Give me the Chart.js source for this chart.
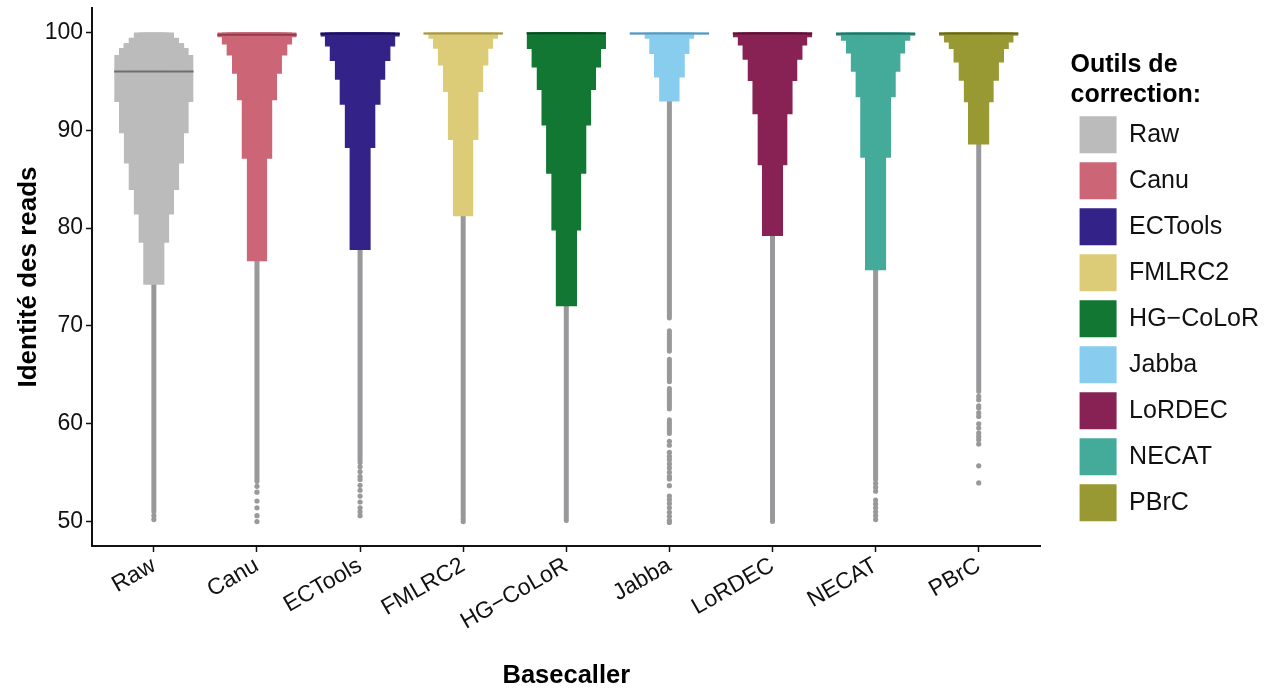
<!DOCTYPE html>
<html>
<head>
<meta charset="utf-8">
<script src="https://cdn.jsdelivr.net/npm/chart.js@4.4.1/dist/chart.umd.min.js"></script>
<style>
  html, body { margin: 0; padding: 0; background: #ffffff; }
  #wrap { width: 1274px; height: 691px; position: relative; }
</style>
</head>
<body>
<div id="wrap"><canvas id="c"></canvas></div>
<script>
// ---------------- DATA ----------------
const categories = ['Raw', 'Canu', 'ECTools', 'FMLRC2', 'HG\u2212CoLoR', 'Jabba', 'LoRDEC', 'NECAT', 'PBrC'];
const fillColors = ['#BBBBBB', '#CC6677', '#332288', '#DDCC77', '#117733', '#88CCEE', '#882255', '#44AA99', '#999933'];
const medianColors = ['#6e6e6e', '#8c3d4d', '#1c1259', '#a39552', '#0a4a20', '#5f96b8', '#561535', '#2a7063', '#66661f'];
const yTicks = [50, 60, 70, 80, 90, 100];

// step boundaries of each (histogram-like) violin, from top to bottom (identity %)
const stepEdges = [
  [100, 99.46, 98.9, 98.4, 97.7, 92.9, 89.7, 86.6, 83.9, 81.4, 78.5, 74.2],
  [100, 99.52, 98.78, 97.65, 95.78, 93.06, 87.1, 76.6],
  [100, 99.58, 98.56, 97.07, 95.16, 92.6, 88.2, 77.76],
  [100, 99.8, 99.35, 98.33, 96.63, 93.9, 89.0, 81.2],
  [100, 98.3, 96.43, 94.12, 90.48, 85.55, 79.76, 72.0],
  [100, 99.8, 99.35, 97.8, 95.4, 92.95],
  [100, 99.52, 98.67, 97.2, 95.03, 91.63, 86.42, 79.2],
  [100, 99.66, 99.15, 97.86, 95.99, 93.37, 87.18, 75.68],
  [100, 99.66, 98.98, 98.3, 96.94, 95.07, 92.86, 88.54]
];
// relative density (width) of each step, 1 = widest
const stepWidths = [
  [0.51, 0.64, 0.77, 0.88, 1.0, 0.88, 0.76, 0.64, 0.51, 0.39, 0.27],
  [1.0, 0.89, 0.77, 0.63, 0.51, 0.39, 0.26],
  [1.0, 0.89, 0.77, 0.64, 0.52, 0.39, 0.27],
  [1.0, 0.88, 0.76, 0.64, 0.51, 0.39, 0.26],
  [1.0, 0.88, 0.75, 0.63, 0.51, 0.38, 0.27],
  [1.0, 0.63, 0.51, 0.39, 0.26],
  [1.0, 0.88, 0.76, 0.63, 0.51, 0.38, 0.27],
  [1.0, 0.88, 0.75, 0.63, 0.51, 0.39, 0.27],
  [1.0, 0.88, 0.76, 0.64, 0.51, 0.38, 0.27]
];
const medians = [96.0, 99.76, 99.86, 99.9, 99.93, 99.9, 99.9, 99.86, 99.9];

// outlier reads: dense runs [low, high] and isolated reads
const denseRuns = [
  [[51.0, 74.2]],
  [[54.1, 76.6]],
  [[56.0, 77.76]],
  [[50.6, 81.2]],
  [[50.1, 72.0]],
  [[70.8, 92.95], [67.4, 69.5], [64.3, 66.6], [61.5, 63.6], [59.0, 60.4]],
  [[50.0, 79.2]],
  [[54.3, 75.68]],
  [[63.3, 88.54]]
];
const singleReads = [
  [50.6, 50.2],
  [53.6, 53.0, 52.1, 51.4, 50.6, 50.0],
  [55.6, 55.1, 54.6, 54.3, 53.7, 53.2, 52.6, 52.0, 51.4, 51.0, 50.6],
  [50.3, 50.0],
  [],
  [58.2, 57.8, 57.07, 56.66, 56.33, 55.89, 55.48, 55.03, 54.62, 54.36, 53.67, 52.6, 52.24, 51.84, 51.4, 50.95, 50.54, 50.13, 49.9],
  [],
  [53.9, 53.5, 53.1, 52.2, 51.8, 51.4, 51.0, 50.6, 50.2],
  [62.79, 62.45, 61.84, 61.6, 61.1, 60.75, 60.0, 59.56, 59.05, 58.7, 58.37, 57.92, 55.7, 53.95]
];

// ---------------- STYLE ----------------
const HALF_WIDTH = 0.385;           // max half width of a violin, in category units
const OUTLIER_COLOR = '#99999c';
const TEXT = '#111111';
Chart.defaults.font.family = "'Liberation Sans', Arial, Helvetica, sans-serif";

// ---------------- DATASETS ----------------
const datasets = [];
categories.forEach((cat, i) => {
  const c = i + 1;
  const edges = stepEdges[i];
  const w = stepWidths[i];
  const n = w.length;
  // violin as nested rectangles (one per width level, spanning the contiguous run at least that wide)
  const seen = new Set();
  for (let k = 0; k < n; k++) {
    let a = k, b = k;
    while (a > 0 && w[a - 1] >= w[k]) a--;
    while (b < n - 1 && w[b + 1] >= w[k]) b++;
    const key = a + '_' + b + '_' + w[k];
    if (seen.has(key)) continue;
    seen.add(key);
    const top = edges[a], bottom = edges[b + 1];
    datasets.push({
      type: 'line', order: 1,
      data: [{x: c - w[k] * HALF_WIDTH, y: top}, {x: c + w[k] * HALF_WIDTH, y: top}],
      borderWidth: 0, pointRadius: 0, backgroundColor: fillColors[i],
      fill: {value: bottom}
    });
  }
  // median line
  const m = medians[i];
  let km = 0;
  for (let k = 0; k < n; k++) { if (edges[k] >= m && m >= edges[k + 1]) { km = k; break; } }
  datasets.push({
    type: 'line', order: 0,
    data: [{x: c - w[km] * HALF_WIDTH, y: m}, {x: c + w[km] * HALF_WIDTH, y: m}],
    borderWidth: 2, borderColor: medianColors[i], pointRadius: 0, fill: false
  });
  // dense outlier runs
  denseRuns[i].forEach(r => {
    datasets.push({
      type: 'line', order: 2,
      data: [{x: c, y: r[0]}, {x: c, y: r[1]}],
      borderWidth: 5, borderColor: OUTLIER_COLOR, borderCapStyle: 'round',
      pointRadius: 0, fill: false
    });
  });
  // isolated outliers
  if (singleReads[i].length) {
    datasets.push({
      type: 'line', order: 2, showLine: false,
      data: singleReads[i].map(v => ({x: c, y: v})),
      pointRadius: 2.6, pointBorderWidth: 0,
      pointBackgroundColor: OUTLIER_COLOR, borderColor: OUTLIER_COLOR, fill: false
    });
  }
});

// ---------------- CHART ----------------
new Chart(document.getElementById('c'), {
  type: 'line',
  data: { datasets },
  options: {
    responsive: true, maintainAspectRatio: false, animation: false, events: [],
    layout: { padding: { top: 8, right: 5, bottom: 0, left: 0 } },
    plugins: {
      tooltip: { enabled: false },
      legend: {
        position: 'right', align: 'start',
        title: {
          display: true, position: 'start', color: '#000',
          text: ['Outils de', 'correction:'],
          font: { size: 25, weight: 'bold', lineHeight: 1.17 },
          padding: { top: 45, bottom: 25 }
        },
        labels: {
          boxWidth: 37, boxHeight: 37, padding: 9, color: TEXT,
          font: { size: 25 },
          generateLabels: () => categories.map((cat, i) => ({
            text: cat, fillStyle: fillColors[i], strokeStyle: fillColors[i],
            lineWidth: 0, hidden: false, datasetIndex: i, fontColor: TEXT
          }))
        },
        onClick: null
      }
    },
    scales: {
      x: {
        type: 'linear', min: 0.4, max: 9.6,
        afterBuildTicks: s => { s.ticks = categories.map((cat, i) => ({ value: i + 1 })); },
        afterFit: s => { s.height = 145; s.paddingLeft = 0; s.paddingRight = 0; },
        ticks: {
          autoSkip: false, minRotation: 30, maxRotation: 30, padding: 0,
          color: TEXT, font: { size: 23 },
          callback: v => categories[Math.round(v) - 1] || ''
        },
        grid: { drawOnChartArea: false, drawTicks: true, tickLength: 6, tickColor: TEXT, tickWidth: 1.5 },
        border: { display: true, color: TEXT, width: 2 },
        title: {
          display: true, text: 'Basecaller', color: '#000',
          font: { size: 25.5, weight: 'bold' }, padding: { top: 0, bottom: 0 }
        }
      },
      y: {
        type: 'linear', min: 47.5, max: 102.5,
        afterBuildTicks: s => { s.ticks = yTicks.map(v => ({ value: v })); },
        afterFit: s => { s.width = 92; s.paddingTop = 0; s.paddingBottom = 0; },
        ticks: { color: TEXT, font: { size: 23 }, padding: 3 },
        grid: { drawOnChartArea: false, drawTicks: true, tickLength: 6, tickColor: TEXT, tickWidth: 1.5 },
        border: { display: true, color: TEXT, width: 2 },
        title: {
          display: true, text: 'Identité des reads', color: '#000',
          font: { size: 26, weight: 'bold' }, padding: { top: 13, bottom: 0 }
        }
      },
      y2: {
        type: 'linear', position: 'right', display: true,
        grid: { display: false }, ticks: { display: false }, border: { display: false },
        afterFit: s => { s.width = 30; s.paddingTop = 0; s.paddingBottom = 0; }
      }
    }
  }
});
</script>
</body>
</html>
